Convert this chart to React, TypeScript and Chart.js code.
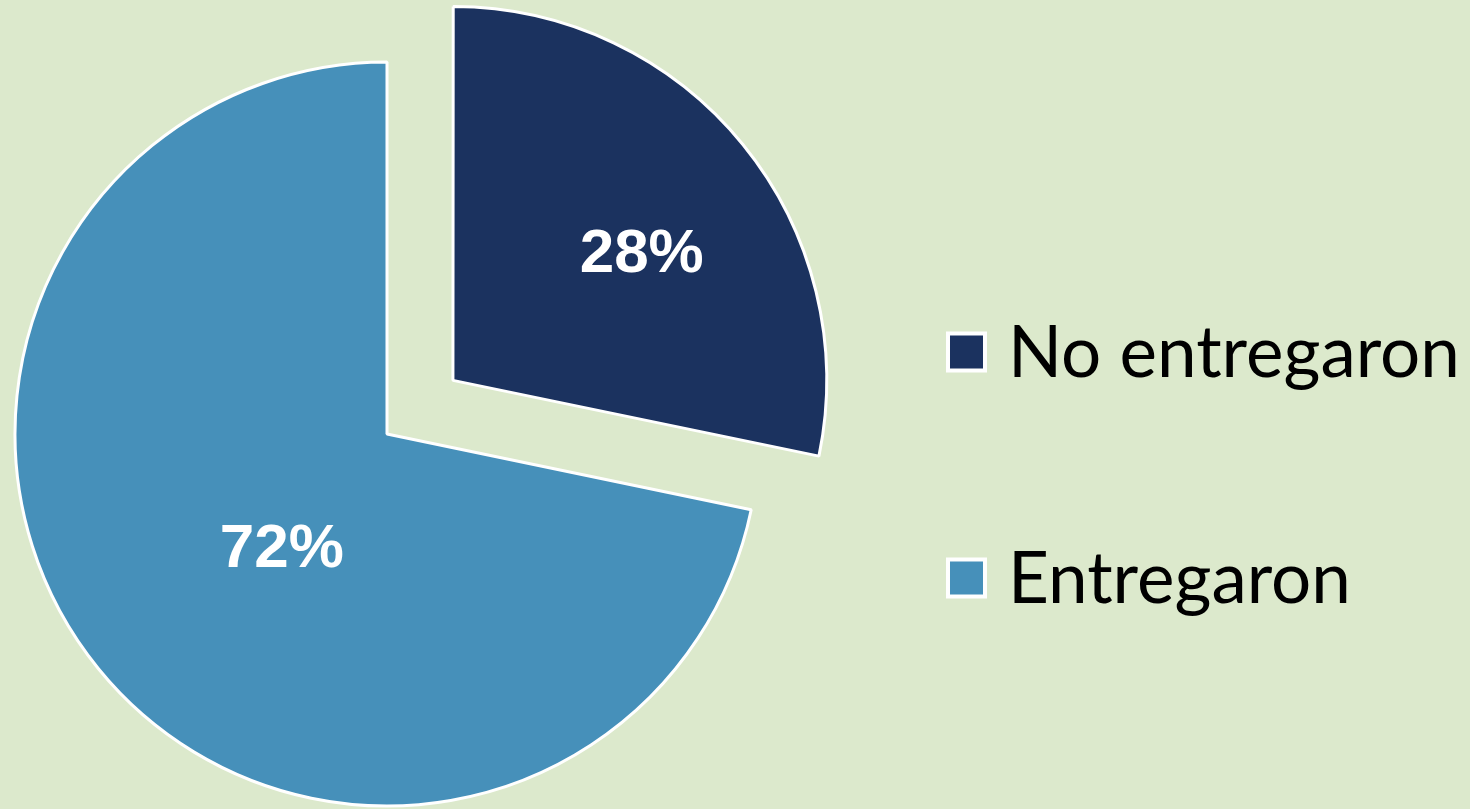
import React, { useEffect, useRef } from "react";
import { Chart, registerables } from "chart.js";

Chart.register(...registerables);

const categories = ["No entregaron", "Entregaron"];
const values = [13, 33];
const sliceColors = ["#1B325F", "#4690BA"];
const sliceOffsets = [340, 0];
const labelRadiusFrac = [0.613, 0.417];
const labelAngleShiftDeg = [5.0, -8.2];

const BG = "#DCE9CC";

const labelsPlugin = {
  id: "sliceLabels",
  afterDatasetsDraw(chart: any) {
    const ctx = chart.ctx;
    const meta = chart.getDatasetMeta(0);
    const data = chart.data.datasets[0].data as number[];
    const total = data.reduce((a, b) => a + b, 0);
    ctx.save();
    ctx.fillStyle = "#FFFFFF";
    ctx.font = "bold 62px 'Liberation Sans', Arial, sans-serif";
    ctx.textAlign = "center";
    ctx.textBaseline = "middle";
    meta.data.forEach((arc: any, i: number) => {
      const p = arc.getProps(["x", "y", "startAngle", "endAngle", "outerRadius"], true);
      const mid = (p.startAngle + p.endAngle) / 2;
      const off = (sliceOffsets[i] || 0) / 4;
      const cx = p.x + Math.cos(mid) * off;
      const cy = p.y + Math.sin(mid) * off;
      const a = mid + (labelAngleShiftDeg[i] * Math.PI) / 180;
      const r = p.outerRadius * labelRadiusFrac[i];
      const pct = Math.round((data[i] / total) * 100) + "%";
      ctx.fillText(pct, cx + Math.cos(a) * r, cy + Math.sin(a) * r + 2);
    });
    ctx.restore();
  },
};

const legendPlugin = {
  id: "sideLegend",
  afterDraw(chart: any) {
    const ctx = chart.ctx;
    const labels = chart.data.labels as string[];
    const colors = chart.data.datasets[0].backgroundColor as string[];
    const boxLeft = 946;
    const boxSize = 41;
    const firstCenterY = 352;
    const stepY = 226;
    ctx.save();
    labels.forEach((lab, i) => {
      const cy = firstCenterY + i * stepY;
      ctx.fillStyle = "#FFFFFF";
      ctx.fillRect(boxLeft, cy - boxSize / 2, boxSize, boxSize);
      ctx.fillStyle = colors[i];
      ctx.fillRect(boxLeft + 4, cy - boxSize / 2 + 4, boxSize - 8, boxSize - 8);
      ctx.fillStyle = "#000000";
      ctx.font = "71px Lato, 'Open Sans', sans-serif";
      ctx.textAlign = "left";
      ctx.textBaseline = "alphabetic";
      ctx.fillText(lab, 1008, cy + 25);
    });
    ctx.restore();
  },
};

export default function App() {
  const canvasRef = useRef<HTMLCanvasElement | null>(null);

  useEffect(() => {
    document.body.style.margin = "0";
    const canvas = canvasRef.current;
    if (!canvas) return;
    const chart = new Chart(canvas, {
      type: "pie",
      data: {
        labels: categories,
        datasets: [
          {
            data: values,
            backgroundColor: sliceColors,
            borderColor: "#FFFFFF",
            borderWidth: 3,
            offset: sliceOffsets,
            hoverOffset: 0,
          },
        ],
      },
      options: {
        responsive: false,
        animation: false,
        radius: 372,
        layout: { padding: { left: 0, right: 696, top: 59, bottom: 0 } },
        plugins: {
          legend: { display: false },
          tooltip: { enabled: false },
        },
        events: [],
      } as any,
      plugins: [labelsPlugin, legendPlugin],
    });
    return () => chart.destroy();
  }, []);

  return (
    <div
      style={{
        position: "fixed",
        left: 0,
        top: 0,
        width: 1470,
        height: 809,
        background: BG,
      }}
    >
      <canvas ref={canvasRef} width={1470} height={809} style={{ display: "block" }} />
    </div>
  );
}
